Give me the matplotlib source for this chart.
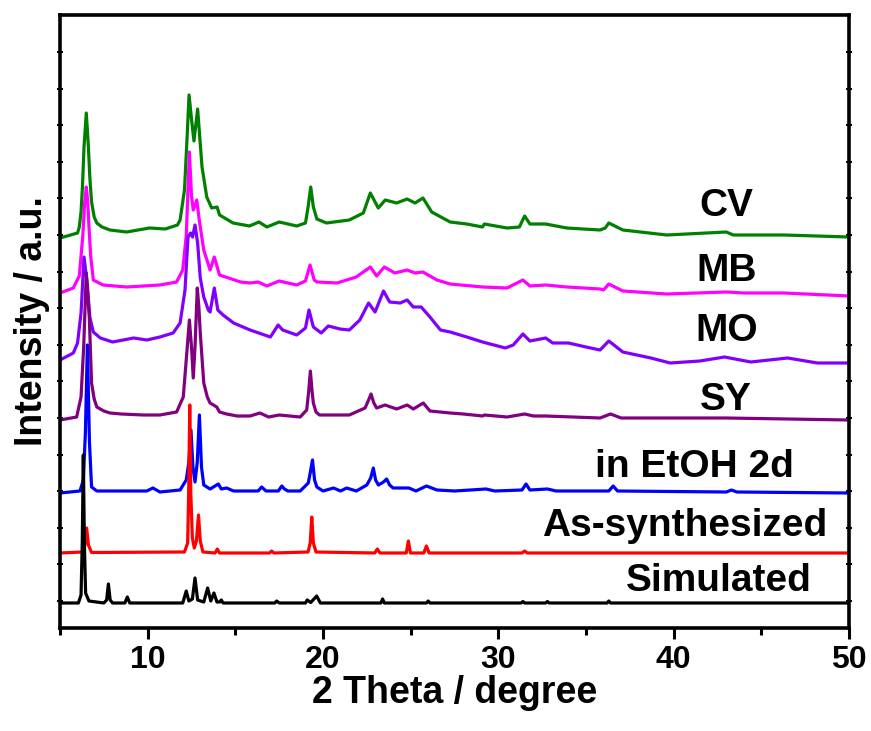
import matplotlib.pyplot as plt
import numpy as np

plt.rcParams['font.family'] = ['Liberation Sans', 'DejaVu Sans']
plt.rcParams['font.weight'] = 'bold'

# 2 theta knots (degree) and intensity above each trace's own baseline (a.u.)
sim_x = [5.0, 6.05, 6.2, 6.27, 6.33, 6.39, 6.46, 6.65, 7.5, 7.66, 7.76, 7.86, 8.0, 8.7, 8.84, 8.98,
         12.0, 12.2, 12.35, 12.55, 12.7, 12.85, 13.2, 13.42, 13.6, 13.78, 13.95, 14.1, 14.2, 14.3,
         17.25, 17.36, 17.5, 19.0, 19.1, 19.3, 19.64, 19.85, 23.3, 23.4, 23.5, 25.9, 26.0, 26.1,
         31.3, 31.4, 31.5, 32.7, 32.8, 32.9, 36.2, 36.3, 36.4, 50.0]
sim_y = [0, 0, 8, 60, 148, 60, 10, 2, 0, 3, 19, 3, 0, 0, 6, 0,
         0, 12, 2, 4, 25, 3, 1, 15, 2, 10, 1, 1, 3, 0,
         0, 2, 0, 0, 3, 0.5, 7, 0, 0, 4, 0, 0, 2, 0,
         0, 1.5, 0, 0, 1.5, 0, 0, 2, 0, 0]

as_x = [5.0, 6.3, 6.42, 6.52, 6.62, 6.8, 12.1, 12.28, 12.34, 12.4, 12.46, 12.55, 12.66, 12.78,
        12.9, 13.0, 13.15, 13.85, 13.97, 14.1, 16.95, 17.07, 17.2, 19.15, 19.27, 19.36, 19.45,
        19.6, 22.95, 23.1, 23.25, 24.75, 24.87, 24.99, 25.75, 25.9, 26.05, 31.35, 31.5, 31.65, 50.0]
as_y = [0, 1, 8, 25, 8, 0.5, 1, 10, 60, 148, 60, 15, 5, 12,
        38, 12, 1, 0, 4, 0, 0, 2, 0, 1, 10, 36, 10,
        1, 0, 4, 0, 0, 12, 0, 0, 7, 0, 0, 2, 0, 0]

etoh_x = [5.0, 6.14, 6.33, 6.45, 6.56, 6.68, 6.8, 7.1, 9.95, 10.3, 10.7, 11.85, 12.2, 12.35,
          12.47, 12.58, 12.7, 12.83, 12.95, 13.07, 13.2, 13.56, 14.03, 14.2, 14.5, 14.9, 16.3,
          16.5, 16.75, 17.45, 17.65, 17.8, 18.0, 18.7, 19.16, 19.28, 19.4, 19.52, 19.65, 20.0,
          20.6, 21.0, 21.35, 21.9, 22.5, 22.72, 22.87, 23.0, 23.16, 23.45, 23.63, 23.8, 24.0,
          24.9, 25.3, 25.9, 26.5, 27.5, 29.3, 29.8, 31.35, 31.58, 31.8, 32.8, 33.3, 36.3, 36.55,
          36.8, 43.0, 43.3, 43.6, 50.0]
etoh_y = [-1, 1, 12, 60, 147, 50, 5, 1, 1, 4, 0, 2, 12, 30,
          62, 25, 10, 30, 77, 25, 7, 3, 8, 3, 4, 1, 1,
          5, 1, 1, 6, 3, 1, 1, 9, 20, 32, 12, 5, 1,
          4, 1, 4, 1, 7, 14, 24, 12, 7, 10, 13, 7, 4,
          4, 1, 6, 2, 1, 3, 1, 2, 8, 2, 3, 1, 1, 6,
          1, 0, 2, 0, -1]

sy_x = [5.0, 5.95, 6.2, 6.35, 6.5, 6.67, 6.8, 6.95, 7.1, 7.5, 7.85, 8.5, 9.75, 10.7, 11.65,
        12.03, 12.2, 12.38, 12.5, 12.6, 12.7, 12.83, 12.92, 13.0, 13.2, 13.4, 13.56, 13.75,
        13.94, 14.1, 14.5, 15.1, 15.84, 16.4, 16.9, 17.5, 18.7, 19.07, 19.18, 19.28, 19.38,
        19.45, 19.6, 19.8, 21.5, 22.4, 22.6, 22.74, 22.9, 23.06, 23.54, 24.2, 24.8, 25.15,
        25.72, 26.1, 27.25, 28.0, 29.1, 29.2, 30.5, 31.5, 32.0, 32.7, 35.8, 36.4, 37.0, 43.0, 50.0]
sy_y = [-3, 0, 20, 70, 144, 100, 34, 18, 10, 6, 4, 3, 2, 2, 5,
        20, 57, 97, 70, 39, 70, 129, 110, 84, 34, 20, 14, 12,
        10, 5, 3, 1, 1, 4, 0, 2, 0, 7, 25, 46, 25,
        14, 5, 2, 2, 9, 17, 23, 14, 9, 12, 8, 12, 8,
        14, 6, 4, 3, 1, 2, 0, 3, 1, 1, -1, 3, -1, -1, -3]

mo_x = [5.0, 5.76, 6.0, 6.2, 6.37, 6.55, 6.7, 6.9, 7.3, 8.0, 8.6, 9.2, 9.95, 10.7, 11.45,
        11.85, 12.13, 12.3, 12.45, 12.56, 12.7, 12.85, 13.0, 13.2, 13.46, 13.56, 13.8, 14.0,
        14.3, 14.9, 15.84, 17.0, 17.44, 17.7, 18.5, 19.0, 19.2, 19.45, 19.9, 20.3, 20.97,
        21.5, 22.1, 22.6, 22.97, 23.45, 23.8, 24.4, 24.8, 25.15, 25.6, 26.1, 26.7, 27.25,
        28.2, 29.1, 30.4, 30.85, 31.4, 31.8, 32.7, 33.1, 34.0, 35.0, 35.8, 36.3, 37.1, 38.7,
        39.8, 41.5, 42.9, 44.4, 46.5, 48.2, 50.0]
mo_y = [3, 10, 20, 50, 106, 80, 46, 31, 25, 21, 23, 25, 23, 26, 30,
        40, 73, 126, 130, 126, 138, 120, 85, 66, 53, 51, 75, 53,
        48, 40, 33, 26, 38, 33, 28, 35, 53, 36, 30, 37, 34,
        33, 43, 60, 51, 72, 61, 60, 63, 56, 56, 46, 33, 31,
        26, 21, 15, 18, 29, 22, 25, 20, 20, 16, 13, 22, 11, 5,
        0, 2, 6, 1, 5, 0, 0]

mb_x = [5.0, 5.76, 6.1, 6.3, 6.4, 6.5, 6.58, 6.65, 6.75, 6.9, 7.45, 8.8, 10.7, 11.65, 12.0,
        12.2, 12.38, 12.5, 12.6, 12.8, 12.95, 13.2, 13.56, 13.8, 14.1, 15.3, 15.84, 16.3, 16.8,
        17.5, 18.5, 19.0, 19.26, 19.5, 19.65, 20.8, 21.9, 22.7, 23.06, 23.5, 24.1, 24.8, 25.25,
        25.7, 26.5, 27.25, 29.1, 30.5, 31.4, 31.8, 32.7, 33.9, 35.8, 36.0, 36.3, 37.1, 39.6,
        43.0, 44.0, 46.3, 50.0]
mb_y = [3, 8, 20, 60, 92, 109, 95, 70, 40, 16, 11, 9, 11, 14, 26,
        60, 144, 100, 86, 96, 75, 46, 26, 39, 21, 14, 13, 14, 10,
        15, 11, 15, 31, 16, 14, 13, 19, 29, 20, 29, 23, 26, 23,
        24, 16, 12, 9, 8, 16, 10, 11, 9, 7, 6, 12, 5, 2,
        4, 3, 3, 0]

cv_x = [5.0, 6.0, 6.1, 6.2, 6.28, 6.37, 6.5, 6.62, 6.7, 6.8, 6.95, 7.1, 7.4, 7.85, 8.8, 10.1,
        11.0, 11.7, 11.85, 12.1, 12.25, 12.36, 12.5, 12.64, 12.85, 13.1, 13.37, 13.65, 13.96,
        14.1, 14.87, 15.8, 16.35, 16.8, 17.5, 18.5, 19.0, 19.15, 19.3, 19.45, 19.65, 20.2,
        21.5, 22.3, 22.7, 23.15, 23.55, 24.2, 24.8, 25.25, 25.7, 26.2, 27.25, 28.2, 29.1, 29.2,
        30.5, 31.2, 31.5, 31.8, 32.7, 33.9, 35.8, 36.1, 36.3, 37.1, 39.6, 43.0, 43.4, 46.3, 50.0]
cv_y = [-1, 4, 10, 25, 50, 90, 124, 90, 60, 35, 20, 14, 10, 7, 5, 9,
        8, 12, 17, 47, 100, 142, 118, 96, 128, 70, 40, 29, 30,
        22, 14, 11, 15, 10, 15, 11, 14, 30, 50, 30, 18, 14,
        17, 24, 44, 29, 37, 34, 38, 34, 39, 25, 15, 13, 10, 13,
        9, 10, 21, 13, 13, 9, 7, 9, 14, 7, 2, 5, 2, 2, 0]

names = ['CV', 'MB', 'MO', 'SY', 'in EtOH 2d', 'As-synthesized', 'Simulated']
offsets = [391, 332, 265, 211, 136, 75, 25]
label_x = [43.0, 43.0, 43.0, 43.0, 41.2, 40.6, 42.6]
label_y = [412, 347, 287, 218, 151, 92, 37]

xs = [cv_x, mb_x, mo_x, sy_x, etoh_x, as_x, sim_x]
ys = [cv_y, mb_y, mo_y, sy_y, etoh_y, as_y, sim_y]
colors = ['#008000', '#ff00ff', '#8000ff', '#800080', '#0000ff', '#ff0000', '#000000']

fig = plt.figure(figsize=(8.71, 7.31), dpi=100)
ax = fig.add_axes([60 / 871, 103 / 731, 789 / 871, 613 / 731])

for x, y, off, c in zip(xs, ys, offsets, colors):
    ax.plot(x, np.array(y) + off, color=c, lw=2.3, solid_joinstyle='round')

for name, tx, ty in zip(names, label_x, label_y):
    ax.text(tx, ty, name, ha='center', va='baseline', fontsize=28, fontweight='bold')

ax.set_xlim(5, 50)
ax.set_ylim(0, 613)
ax.set_xticks([10, 20, 30, 40, 50])
ax.set_xticks([5, 15, 25, 35, 45], minor=True)
ax.set_yticks(np.arange(27, 600, 36.6))
ax.set_yticklabels([])
ax.tick_params(axis='x', which='major', direction='out', length=8, width=2.2,
               labelsize=23, pad=4)
ax.tick_params(axis='x', which='minor', direction='out', length=5, width=2.2)
ax.tick_params(axis='y', direction='inout', length=4, width=1.5, left=True, right=True)
for lab in ax.get_xticklabels():
    lab.set_fontweight('bold')
for s in ax.spines.values():
    s.set_linewidth(2.6)

ax.set_xlabel('2 Theta / degree', fontsize=27, fontweight='bold', labelpad=0)
ax.set_ylabel('Intensity / a.u.', fontsize=27, fontweight='bold', labelpad=2)

fig.savefig('out.png', dpi=100)
